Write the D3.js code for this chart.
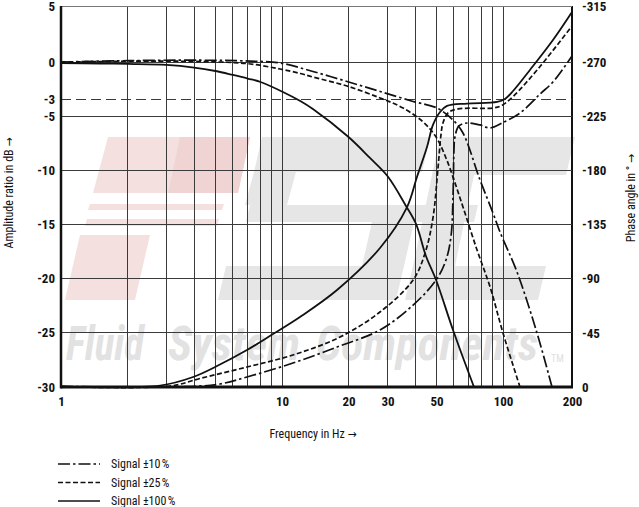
<!DOCTYPE html>
<html><head><meta charset="utf-8">
<script src="https://cdn.jsdelivr.net/npm/d3@7"></script>
<style>body{margin:0;background:#fff}</style>
</head><body><svg id="c" width="639" height="507"></svg>
<script>
// ---------- data ----------
const freqTickLabels = [1, 10, 20, 30, 50, 100, 200];
const freqGrid = [2, 3, 4, 5, 6, 7, 8, 9, 10, 20, 30, 40, 50, 60, 70, 80, 90, 100, 200];
const dbTicks = [5, 0, -3, -5, -10, -15, -20, -25, -30];
const phaseTicks = [-315, -270, -225, -180, -135, -90, -45, 0];

// amplitude ratio (dB)
const ampFreq100 = [1, 1.5, 2, 3, 4, 5, 6, 7, 8, 10.1, 12.1, 13.8, 20, 25, 30, 36.4, 40.4, 44.8, 49.8, 59.4, 73.9];
const amp100 = [-0.08, -0.12, -0.16, -0.24, -0.45, -0.73, -1.05, -1.34, -1.62, -2.43, -3.24, -4.18, -6.94, -8.87, -10.54, -13.3, -14.96, -17.91, -20.13, -24.74, -30];
const ampFreq25 = [1, 1.5, 2.8, 5.2, 7.2, 9.8, 12.1, 13.8, 19.7, 27.8, 35.3, 43.5, 49.8, 55.2, 60, 65.9, 76.3, 87.4, 100, 118.6];
const amp25 = [0, 0.04, 0.08, 0, -0.16, -0.57, -0.93, -1.22, -1.95, -2.92, -4.06, -5.55, -6.94, -8.87, -10.9, -13.39, -17.36, -20.77, -25.02, -30];
const ampFreq10 = [1, 2, 4.26, 7.17, 9.79, 13.8, 19.7, 27.8, 39.2, 50.3, 59.4, 65.9, 78.7, 90.1, 96.9, 115.1, 140.7, 163.6];
const amp10 = [0, 0.12, 0.16, 0.08, -0.08, -0.77, -1.58, -2.39, -3.29, -4.06, -5.37, -6.57, -10.9, -13.95, -15.7, -19.39, -25.02, -30];

// phase angle (deg)
const phFreq100 = [1, 2.81, 3.96, 5.08, 6.94, 9.1, 12.06, 17.74, 27.76, 36.8, 40.8, 45.3, 48.2, 51.9, 55.8, 68.7, 94, 102, 110.6, 131.1, 165.2, 200];
const ph100 = [-0.5, -1.2, -8.3, -17.4, -30.7, -44.0, -58.2, -80.6, -115.5, -149.5, -174.5, -199.4, -217.7, -228.5, -233.5, -235.5, -236.8, -239.3, -245.9, -263.4, -287.7, -310.2];
const phFreq25 = [1, 3.11, 4.26, 6.94, 11.21, 18.3, 27.76, 39.2, 44.4, 48.2, 50.8, 52.4, 53.5, 56.4, 62.6, 90.1, 97.9, 110.6, 145.1, 200];
const ph25 = [-0.4, -0.8, -7.1, -16.6, -26.6, -41.5, -62.3, -88.9, -111.3, -140.4, -181.9, -209.4, -219.3, -227.7, -231, -231.8, -233.5, -241.3, -266.3, -299];
const phFreq10 = [1, 3.83, 5.24, 6.94, 11.21, 17.74, 27.76, 39.2, 49.8, 55.2, 58.2, 59.4, 60, 60.6, 63.2, 68.7, 78.7, 87.4, 100, 118.6, 145.1, 165.2, 200];
const ph10 = [-0.4, -0.4, -2.5, -8.3, -19.9, -33.2, -47.4, -68.1, -88.9, -105.5, -125.4, -157.9, -196.9, -207.7, -216.9, -219.3, -217.7, -215.2, -219.7, -227.6, -243.4, -253.4, -274.8];

const legendLabels = ["Signal \u00b110\u202f%", "Signal \u00b125\u202f%", "Signal \u00b1100\u202f%"];
const watermarkWords = ["Fluid", "System", "Components"];

// ---------- scales ----------
const svg = d3.select("#c");
const FONT = "'Roboto Condensed','Liberation Sans Narrow','DejaVu Sans Condensed',Roboto,sans-serif";
const x = d3.scaleLog().domain([1, 100, 200]).range([61, 503, 572]);
const y = d3.scaleLinear().domain([5, 0, -3, -5, -30]).range([6, 62, 99, 116, 387]);
const yP = d3.scaleLinear().domain([0, -270, -315]).range([387, 62, 6]);
const X0 = x(1), X1 = x(200), Y0 = y(-30), Y1 = y(5);

// ---------- watermark ----------
const wm = svg.append("g");
const pink = "#f5e0e0", pink2 = "#f0d4d4", grey = "#e6e6e6";
const poly = (pts, fill) => wm.append("path").attr("d", "M" + pts.map(p => p.join(",")).join("L") + "Z").attr("fill", fill);
poly([[108,137],[250,137],[238,193],[93,193]], pink);
poly([[180,137],[250,137],[238,193],[168,193]], pink2);
poly([[90,204],[224,204],[222,210],[88,210]], pink);
poly([[87,219],[219,219],[217,226],[85,226]], pink);
poly([[80,235],[150,235],[135,300],[65,300]], pink);
// S
poly([[262,137],[430,137],[422,172],[254,172]], grey);
poly([[254,172],[296,172],[287,205],[245,205]], grey);
poly([[250,205],[478,205],[474,222],[246,222]], grey);
poly([[372,222],[414,222],[404,266],[362,266]], grey);
poly([[226,266],[404,266],[396,300],[218,300]], grey);
// C
poly([[440,137],[575,137],[566,175],[432,175]], grey);
poly([[432,175],[474,175],[455,266],[413,266]], grey);
poly([[413,266],[546,266],[538,300],[405,300]], grey);
const wmX = [66, 168, 316], wmW = [78, 132, 222];
watermarkWords.forEach((w, i) => wm.append("text").attr("x", wmX[i]).attr("y", 0)
  .attr("transform", "translate(0,360) scale(1,1.15)")
  .attr("textLength", wmW[i]).attr("lengthAdjust", "spacingAndGlyphs")
  .attr("font-family", FONT).attr("font-weight", "bold").attr("font-style", "italic").attr("font-size", 42)
  .attr("fill", "#e2e2e2").text(w));
wm.append("text").attr("x", 551).attr("y", 362).attr("font-family", FONT).attr("font-size", 10).attr("fill", "#e0e0e0").text("TM");

// ---------- grid ----------
const grid = svg.append("g").attr("shape-rendering", "crispEdges");
grid.selectAll("line.v").data(freqGrid).join("line")
  .attr("x1", d => x(d)).attr("x2", d => x(d)).attr("y1", Y1).attr("y2", Y0)
  .attr("stroke", d => d === 200 ? "#111" : "#3a3a3a").attr("stroke-width", d => d === 200 ? 2 : 1);
grid.selectAll("line.h").data(dbTicks).join("line")
  .attr("x1", X0).attr("x2", X1).attr("y1", d => y(d)).attr("y2", d => y(d))
  .attr("stroke", d => d === 5 ? "#777" : "#3a3a3a").attr("stroke-width", 1)
  .attr("stroke-dasharray", d => d === -3 ? "10,5" : null);

// ---------- curves ----------
const styles = [
  { dash: "12,3,2.5,3", w: 1.7 },
  { dash: "5,2.5", w: 1.7 },
  { dash: null, w: 1.8 }
];
const curve = d3.curveCatmullRom.alpha(0.5);
const lineAmp = d3.line().x(d => x(d[0])).y(d => y(d[1])).curve(curve);
const linePh = d3.line().x(d => x(d[0])).y(d => yP(d[1])).curve(curve);
const ampSeries = [d3.zip(ampFreq10, amp10), d3.zip(ampFreq25, amp25), d3.zip(ampFreq100, amp100)];
const phSeries = [d3.zip(phFreq10, ph10), d3.zip(phFreq25, ph25), d3.zip(phFreq100, ph100)];
const cg = svg.append("g").attr("fill", "none").attr("stroke", "#111");
ampSeries.forEach((s, i) => cg.append("path").attr("d", lineAmp(s))
  .attr("stroke-width", styles[i].w).attr("stroke-dasharray", styles[i].dash));
phSeries.forEach((s, i) => cg.append("path").attr("d", linePh(s))
  .attr("stroke-width", styles[i].w).attr("stroke-dasharray", styles[i].dash));

// ---------- axes ----------
svg.append("line").attr("x1", X0).attr("x2", X0).attr("y1", Y1).attr("y2", Y0 + 1.5).attr("stroke", "#111").attr("stroke-width", 2.5);
svg.append("line").attr("x1", X0).attr("x2", X1 + 1).attr("y1", Y0).attr("y2", Y0).attr("stroke", "#111").attr("stroke-width", 2.8);

const axB = svg.append("g").attr("transform", `translate(0,${Y0 + 6})`)
  .call(d3.axisBottom(x).tickValues(freqTickLabels).tickFormat(d3.format("d")).tickSize(0).tickPadding(4));
const axL = svg.append("g").attr("transform", `translate(${X0 - 6},0)`)
  .call(d3.axisLeft(y).tickValues(dbTicks).tickFormat(d => d).tickSize(0).tickPadding(0));
const axR = svg.append("g").attr("transform", `translate(${X1 + 10},0)`)
  .call(d3.axisRight(yP).tickValues(phaseTicks).tickFormat(d => d).tickSize(0).tickPadding(0));
[axB, axL, axR].forEach(a => {
  a.select(".domain").remove();
  a.selectAll("text").attr("font-family", FONT).attr("font-weight", "bold").attr("font-size", 13).attr("fill", "#111");
});

// titles
const tt = (tx, ty, rot, s) => svg.append("text").attr("transform", `translate(${tx},${ty}) rotate(${rot})`)
  .attr("text-anchor", "middle").attr("font-family", FONT).attr("font-size", 12).attr("fill", "#111").text(s);
tt(313, 438, 0, "Frequency in Hz \u2192");
tt(13, 193, -90, "Amplitude ratio in dB \u2192");
tt(635, 198, -90, "Phase angle in \u00b0 \u2192");

// legend
const lg = svg.append("g");
legendLabels.forEach((lab, i) => {
  const ly = 464 + i * 18.5;
  lg.append("line").attr("x1", 58).attr("x2", 100).attr("y1", ly).attr("y2", ly)
    .attr("stroke", "#111").attr("stroke-width", 1.7).attr("stroke-dasharray", styles[i].dash);
  lg.append("text").attr("x", 111).attr("y", ly + 4).attr("font-family", FONT).attr("font-size", 12).attr("fill", "#111").text(lab);
});
</script></body></html>
